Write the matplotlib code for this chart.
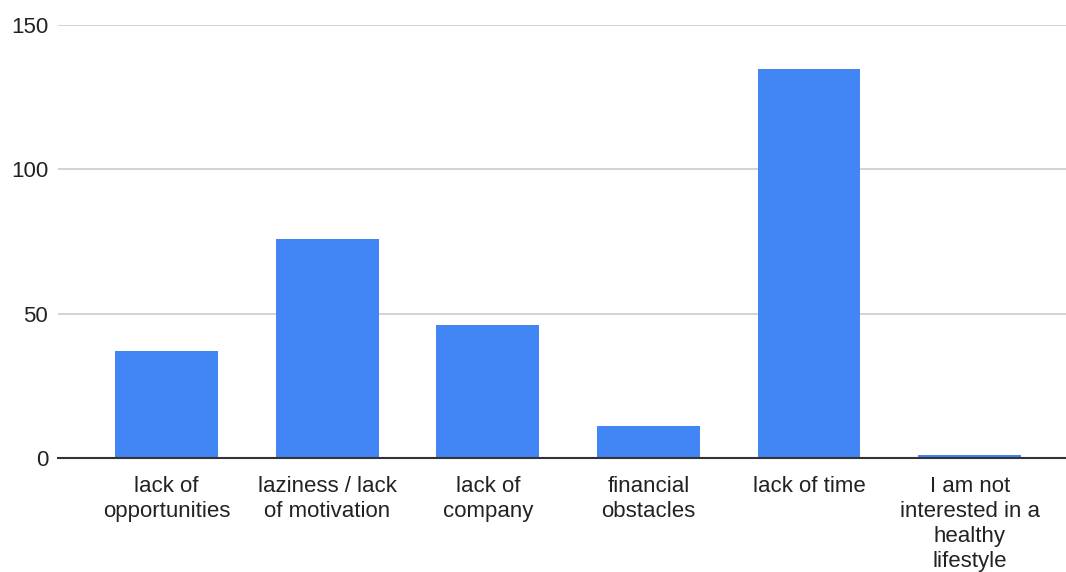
import matplotlib
matplotlib.use("Agg")
import matplotlib.pyplot as plt

# Reasons people gave for not living healthier
reasons = [
    "lack of\nopportunities",
    "laziness / lack\nof motivation",
    "lack of\ncompany",
    "financial\nobstacles",
    "lack of time",
    "I am not\ninterested in a\nhealthy\nlifestyle",
]
counts = [37, 76, 46, 11, 135, 1]
y_ticks = [0, 50, 100, 150]

plt.rcParams["font.family"] = ["Liberation Sans", "DejaVu Sans"]

fig = plt.figure(figsize=(10.66, 5.72), dpi=100)
ax = fig.add_axes([58 / 1066, 114.3 / 572, 1 - 58 / 1066, 432.4 / 572])

x = range(len(reasons))
ax.bar(x, counts, width=0.64, color="#4285F4", zorder=3)

ax.set_ylim(0, 150)
ax.set_xlim(-0.676, 5.60)
ax.set_yticks(y_ticks)
ax.set_yticklabels([str(t) for t in y_ticks])
ax.set_xticks(list(x))
ax.set_xticklabels(reasons, linespacing=1.25)

ax.grid(axis="y", color="#cccccc", linewidth=1.2, zorder=0)
for side in ["top", "right", "left"]:
    ax.spines[side].set_visible(False)
ax.spines["bottom"].set_color("#333333")
ax.spines["bottom"].set_linewidth(1.5)
ax.spines["bottom"].set_zorder(4)

ax.tick_params(axis="both", length=0, labelsize=16, colors="#222222")
ax.tick_params(axis="y", pad=7)
ax.tick_params(axis="x", pad=13)

fig.savefig("out.png", dpi=100)
